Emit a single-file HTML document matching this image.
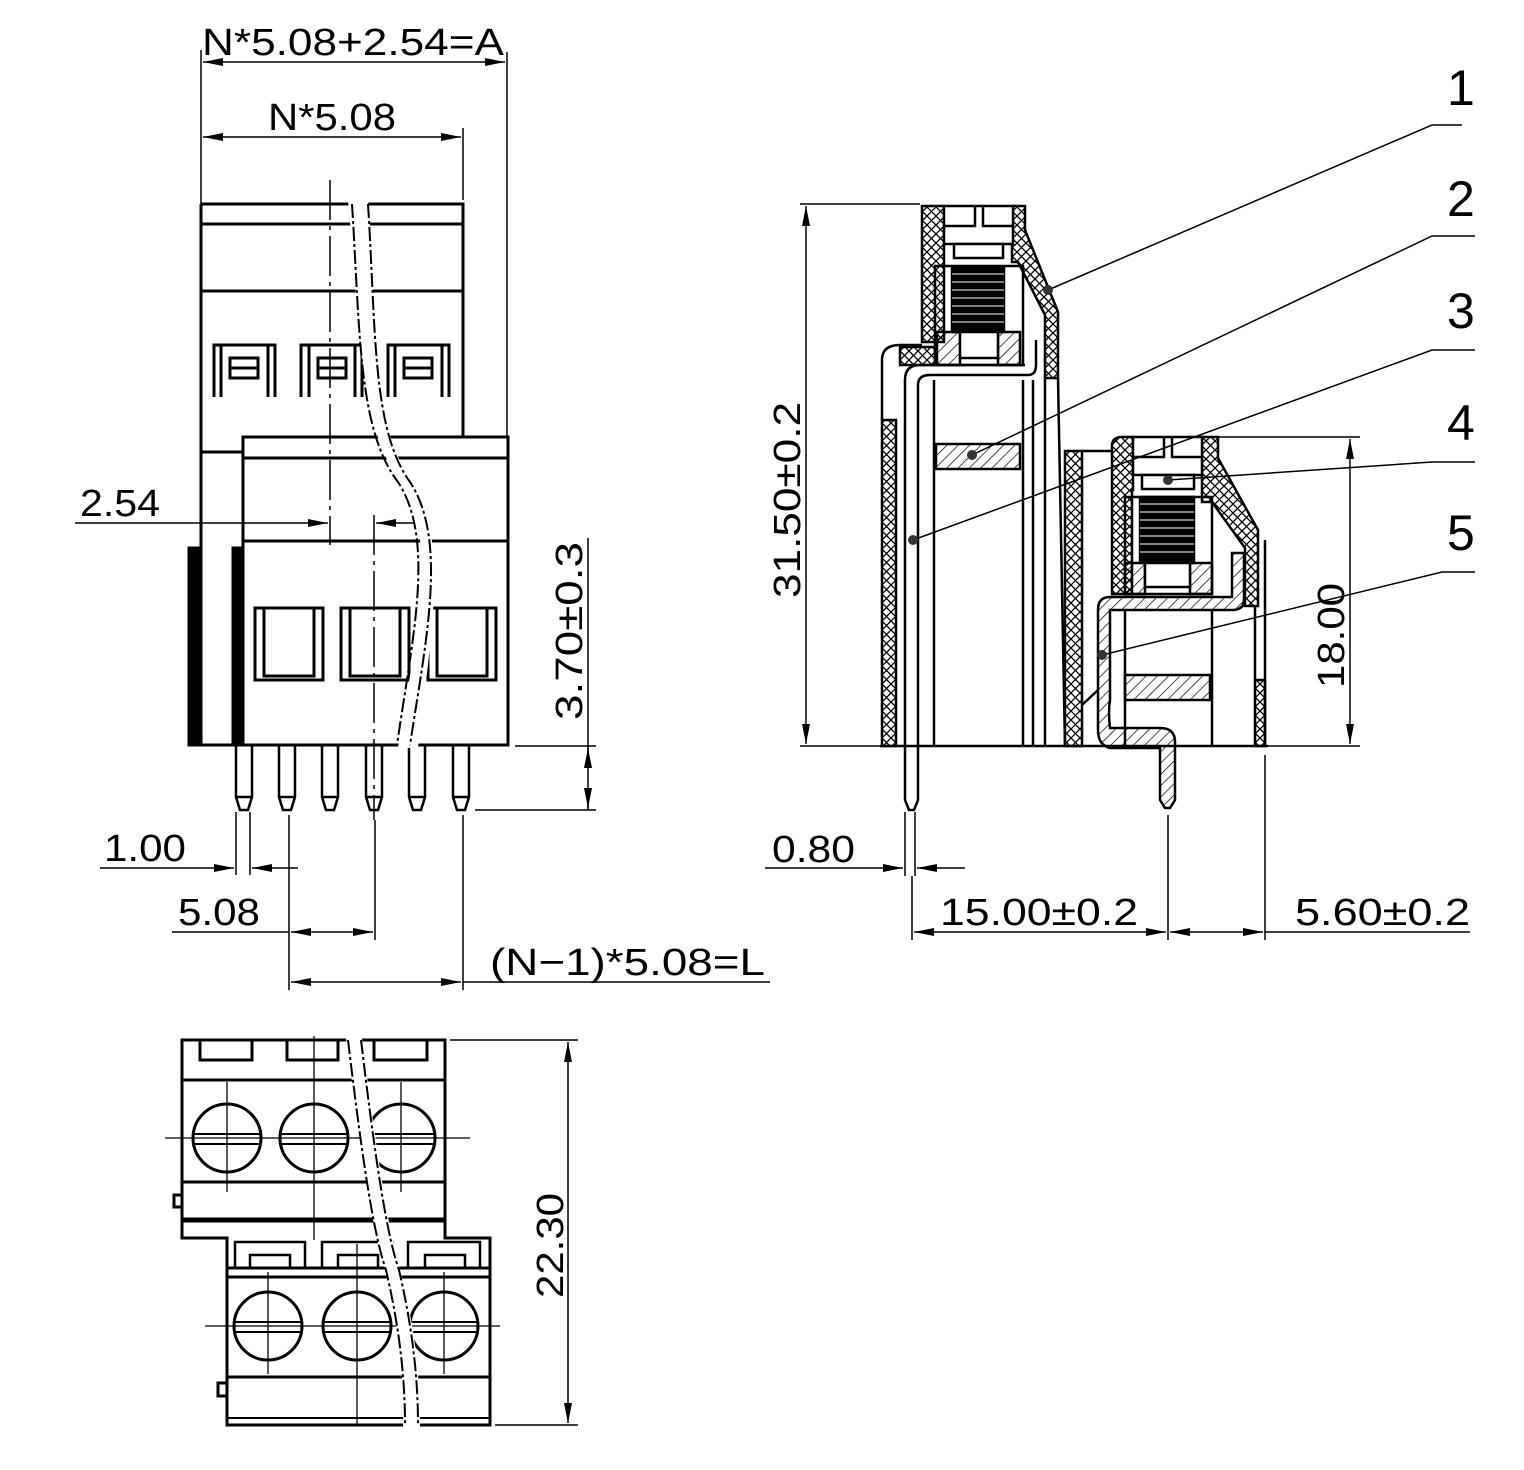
<!DOCTYPE html>
<html><head><meta charset="utf-8"><style>
html,body{margin:0;padding:0;background:#fff}
svg{display:block}
text{font-family:"Liberation Sans",sans-serif;fill:#000}
</style></head><body>
<svg width="1524" height="1470" viewBox="0 0 1524 1470" xmlns="http://www.w3.org/2000/svg">
<defs>
<marker id="a" viewBox="0 0 20 8" refX="20" refY="4" markerWidth="20" markerHeight="8" markerUnits="userSpaceOnUse" orient="auto-start-reverse"><path d="M0,0 L20,4 L0,8 z" fill="#000"/></marker>
<pattern id="x" width="9" height="9" patternUnits="userSpaceOnUse"><path d="M0,0 L9,9 M9,0 L0,9" stroke="#000" stroke-width="1.3"/></pattern>
<pattern id="d" width="8" height="8" patternUnits="userSpaceOnUse" patternTransform="rotate(45)"><line x1="0" y1="0" x2="0" y2="8" stroke="#000" stroke-width="1.4"/></pattern>
</defs>

<!-- ================= FRONT VIEW ================= -->
<g fill="none" stroke="#000" stroke-width="3">
<!-- upper body -->
<path d="M201,204 H463 V437"/>
<line x1="201" y1="204" x2="201" y2="745"/>
<line x1="201" y1="224" x2="463" y2="224"/>
<line x1="201" y1="291" x2="463" y2="291"/>
<line x1="201" y1="452" x2="243" y2="452"/>
<!-- upper windows -->
<path d="M214,397 V345 H275 V397"/><rect x="230" y="358" width="28" height="20"/><line x1="230" y1="368" x2="258" y2="368"/>
<path d="M221,397 V345 M268,397 V345"/>
<path d="M301,397 V345 H362 V397"/><rect x="318" y="358" width="28" height="20"/><line x1="318" y1="368" x2="346" y2="368"/>
<path d="M309,397 V345 M355,397 V345"/>
<path d="M388,397 V345 H449 V397"/><rect x="404" y="358" width="28" height="20"/><line x1="404" y1="368" x2="432" y2="368"/>
<path d="M395,397 V345 M442,397 V345"/>
<!-- lower body -->
<rect x="243" y="437" width="265" height="308"/>
<line x1="243" y1="458" x2="508" y2="458"/>
<line x1="243" y1="541" x2="508" y2="541"/>
<rect x="189" y="548" width="10" height="197" fill="#000"/>
<rect x="233" y="548" width="8" height="197" fill="#000"/>
<line x1="189" y1="745" x2="243" y2="745"/>
<!-- lower windows -->
<rect x="255" y="608" width="68" height="72"/><rect x="264" y="608" width="50" height="68"/>
<rect x="341" y="608" width="68" height="72"/><rect x="350" y="608" width="50" height="68"/>
<rect x="428" y="608" width="68" height="72"/><rect x="437" y="608" width="50" height="68"/>
<!-- pins -->
<g stroke-width="2.5">
<path d="M236,745 V797 L240,810 H248 L252,797 V745 M236,797 H252"/>
<path d="M279,745 V797 L283,810 H291 L295,797 V745 M279,797 H295"/>
<path d="M322,745 V797 L326,810 H334 L338,797 V745 M322,797 H338"/>
<path d="M366,745 V797 L370,810 H378 L382,797 V745 M366,797 H382"/>
<path d="M409,745 V797 L413,810 H421 L425,797 V745 M409,797 H425"/>
<path d="M453,745 V797 L457,810 H465 L469,797 V745 M453,797 H469"/>
</g>
</g>
<!-- break -->
<path d="M348,200 C360,330 360,430 400,480 C440,540 415,640 398,748 L418,748 C430,640 450,540 412,480 C372,430 378,330 368,200 Z" fill="#fff" stroke="none"/>
<g fill="none" stroke="#000" stroke-width="2">
<path d="M352,204 C360,330 358,430 398,482 C436,540 412,640 397,745" stroke-dasharray="14,3,3,3"/>
<path d="M368,204 C376,330 372,430 410,482 C448,540 426,640 410,745" stroke-dasharray="14,3,3,3"/>
</g>
<g stroke="#000" stroke-width="1.5" fill="none">
<line x1="330" y1="180" x2="330" y2="545" stroke-dasharray="40,6,4,6"/>
<line x1="374" y1="515" x2="374" y2="820" stroke-dasharray="40,6,4,6"/>
</g>

<!-- front dims -->
<g stroke="#000" stroke-width="1.5" fill="none">
<line x1="201" y1="50" x2="201" y2="204"/>
<line x1="507" y1="52" x2="507" y2="437"/>
<line x1="203" y1="62" x2="505" y2="62" marker-start="url(#a)" marker-end="url(#a)"/>
<line x1="463" y1="128" x2="463" y2="200"/>
<line x1="203" y1="137" x2="461" y2="137" marker-start="url(#a)" marker-end="url(#a)"/>
<line x1="75" y1="523" x2="328" y2="523" marker-end="url(#a)"/>
<line x1="415" y1="523" x2="376" y2="523" marker-end="url(#a)"/>
<line x1="515" y1="746" x2="596" y2="746"/>
<line x1="475" y1="810" x2="596" y2="810"/>
<line x1="588" y1="538" x2="588" y2="810"/>
<line x1="588" y1="768" x2="588" y2="748" marker-end="url(#a)"/>
<line x1="588" y1="788" x2="588" y2="808" marker-end="url(#a)"/>
<line x1="236" y1="812" x2="236" y2="875"/>
<line x1="250" y1="812" x2="250" y2="875"/>
<line x1="100" y1="868" x2="234" y2="868" marker-end="url(#a)"/>
<line x1="298" y1="868" x2="252" y2="868" marker-end="url(#a)"/>
<line x1="289" y1="815" x2="289" y2="990"/>
<line x1="375" y1="820" x2="375" y2="940"/>
<line x1="172" y1="932" x2="289" y2="932"/>
<line x1="291" y1="932" x2="373" y2="932" marker-start="url(#a)" marker-end="url(#a)"/>
<line x1="463" y1="815" x2="463" y2="990"/>
<line x1="291" y1="982" x2="461" y2="982" marker-start="url(#a)" marker-end="url(#a)"/>
<line x1="463" y1="982" x2="770" y2="982"/>
</g>
<text x="202" y="55" font-size="38" textLength="302" lengthAdjust="spacingAndGlyphs">N*5.08+2.54=A</text>
<text x="268" y="130" font-size="38" textLength="128" lengthAdjust="spacingAndGlyphs">N*5.08</text>
<text x="80" y="516" font-size="38" textLength="80" lengthAdjust="spacingAndGlyphs">2.54</text>
<text transform="translate(582,720) rotate(-90)" font-size="38" textLength="178" lengthAdjust="spacingAndGlyphs">3.70±0.3</text>
<text x="104" y="861" font-size="38" textLength="82" lengthAdjust="spacingAndGlyphs">1.00</text>
<text x="178" y="925" font-size="38" textLength="82" lengthAdjust="spacingAndGlyphs">5.08</text>
<text x="490" y="975" font-size="38" textLength="275" lengthAdjust="spacingAndGlyphs">(N−1)*5.08=L</text>

<!-- ================= SIDE VIEW ================= -->
<g stroke="#000" stroke-width="2.5">
<!-- tall housing hatched -->
<path d="M922,206 H944 V342 H922 Z" fill="url(#x)"/>
<path d="M1012,206 H1025 V230 L1058,312 V378 H1045 V315 L1018,262 H1012 Z" fill="url(#x)"/>
<path d="M900,347 H935 V365 H900 Z" fill="url(#x)"/>
<path d="M882,420 H896 V746 H882 Z" fill="url(#x)"/>
<path d="M937,332 H960 V365 H937 Z M998,332 H1020 V365 H998 Z" fill="url(#d)"/>
<rect x="936" y="444" width="84" height="25" fill="url(#d)"/>
<path d="M1065,451 H1082 V746 H1065 Z" fill="url(#x)"/>
<!-- screw head -->
<rect x="944" y="206" width="69" height="38" fill="#fff"/>
<path d="M944,226 H975 V206 M983,206 V226 H1013" fill="none"/>
<rect x="954" y="244" width="49" height="14" fill="#fff"/>
<rect x="935" y="266" width="88" height="99" fill="none"/>
<!-- spring -->
<rect x="952" y="268" width="52" height="64" fill="#000"/>
<g stroke="#fff" stroke-width="1"><line x1="952" y1="274" x2="1004" y2="274"/><line x1="952" y1="282" x2="1004" y2="282"/><line x1="952" y1="290" x2="1004" y2="290"/><line x1="952" y1="298" x2="1004" y2="298"/><line x1="952" y1="306" x2="1004" y2="306"/><line x1="952" y1="314" x2="1004" y2="314"/><line x1="952" y1="322" x2="1004" y2="322"/></g>
<rect x="960" y="332" width="38" height="26" fill="#fff"/>
<!-- clamp & lines -->
<path d="M918,746 V385 Q918,375 930,375 H1028 Q1036,375 1036,365 V340 M905,746 V380 Q905,365 920,365 H1025" fill="none"/>
<path d="M882,420 V360 Q882,345 900,345 H922" fill="none"/>
<g fill="none"><line x1="934" y1="380" x2="934" y2="746"/><line x1="1023" y1="380" x2="1023" y2="746"/><line x1="1033" y1="380" x2="1033" y2="746"/><line x1="1045" y1="378" x2="1045" y2="746"/><line x1="1058" y1="378" x2="1065" y2="746"/></g>
<!-- pin left -->
<path d="M905,746 V800 L909,810 H914 L918,800 V746" fill="none"/>
<!-- lower housing -->
<path d="M1112,446 Q1112,437 1122,437 H1133 V490 H1132 V594 H1112 Z" fill="url(#x)"/>
<path d="M1202,437 H1218 V458 L1258,530 V606 H1245 V548 L1212,502 H1202 Z" fill="url(#x)"/>
<rect x="1133" y="437" width="69" height="38" fill="#fff"/>
<path d="M1133,457 H1164 V437 M1172,437 V457 H1202" fill="none"/>
<rect x="1142" y="475" width="52" height="14" fill="#fff"/>
<rect x="1125" y="497" width="87" height="97" fill="none"/>
<rect x="1140" y="497" width="54" height="66" fill="#000"/>
<g stroke="#fff" stroke-width="1"><line x1="1140" y1="504" x2="1194" y2="504"/><line x1="1140" y1="512" x2="1194" y2="512"/><line x1="1140" y1="520" x2="1194" y2="520"/><line x1="1140" y1="528" x2="1194" y2="528"/><line x1="1140" y1="536" x2="1194" y2="536"/><line x1="1140" y1="544" x2="1194" y2="544"/><line x1="1140" y1="552" x2="1194" y2="552"/></g>
<path d="M1125,563 H1145 V594 H1125 Z M1190,563 H1212 V594 H1190 Z" fill="url(#d)"/>
<rect x="1145" y="563" width="45" height="24" fill="#fff"/>
<!-- lower clamp -->
<path d="M1098,700 V610 Q1098,597 1110,597 H1232 V553 H1244 V600 Q1244,610 1232,610 H1110 V700 Q1108,712 1110,728 H1160 Q1175,728 1175,742 V800 L1170,808 H1165 L1160,800 V748 H1110 Q1098,745 1098,730 Z" fill="url(#d)"/>
<rect x="1125" y="675" width="85" height="25" fill="url(#d)"/>
<path d="M1255,680 H1265 V746 H1255 Z" fill="url(#x)"/>
<g fill="none"><line x1="1125" y1="610" x2="1125" y2="746"/><line x1="1212" y1="610" x2="1212" y2="746"/><line x1="1255" y1="606" x2="1255" y2="680"/><line x1="1265" y1="540" x2="1265" y2="746"/><line x1="1082" y1="451" x2="1112" y2="451"/><line x1="1082" y1="705" x2="1098" y2="690"/></g>
<line x1="880" y1="746" x2="1268" y2="746"/>
</g>
<!-- leaders -->
<g stroke="#000" stroke-width="1.5" fill="none">
<path d="M1048,290 L1432,125 H1462"/>
<path d="M972,455 L1432,236 H1475"/>
<path d="M913,540 L1432,350 H1475"/>
<path d="M1168,480 L1432,462 H1475"/>
<path d="M1102,655 L1442,572 H1475"/>
</g>
<g fill="#333"><circle cx="1048" cy="290" r="5"/><circle cx="972" cy="455" r="5"/><circle cx="913" cy="540" r="5"/><circle cx="1168" cy="480" r="5"/><circle cx="1102" cy="655" r="5"/></g>
<g font-size="50"><text x="1447" y="105">1</text><text x="1447" y="216">2</text><text x="1447" y="328">3</text><text x="1447" y="440">4</text><text x="1447" y="550">5</text></g>
<!-- side dims -->
<g stroke="#000" stroke-width="1.5" fill="none">
<line x1="800" y1="204" x2="920" y2="204"/>
<line x1="806" y1="206" x2="806" y2="744" marker-start="url(#a)" marker-end="url(#a)"/>
<line x1="800" y1="746" x2="880" y2="746"/>
<line x1="1218" y1="437" x2="1360" y2="437"/>
<line x1="1268" y1="746" x2="1360" y2="746"/>
<line x1="1350" y1="439" x2="1350" y2="744" marker-start="url(#a)" marker-end="url(#a)"/>
<line x1="905" y1="812" x2="905" y2="876"/>
<line x1="915" y1="812" x2="915" y2="876"/>
<line x1="765" y1="868" x2="903" y2="868" marker-end="url(#a)"/>
<line x1="965" y1="868" x2="917" y2="868" marker-end="url(#a)"/>
<line x1="912" y1="876" x2="912" y2="940"/>
<line x1="1168" y1="815" x2="1168" y2="940"/>
<line x1="1265" y1="755" x2="1265" y2="940"/>
<line x1="914" y1="932" x2="1166" y2="932" marker-start="url(#a)" marker-end="url(#a)"/>
<line x1="1170" y1="932" x2="1263" y2="932" marker-start="url(#a)" marker-end="url(#a)"/>
<line x1="1265" y1="932" x2="1470" y2="932"/>
</g>
<text transform="translate(800,598) rotate(-90)" font-size="38" textLength="196" lengthAdjust="spacingAndGlyphs">31.50±0.2</text>
<text transform="translate(1344,688) rotate(-90)" font-size="38" textLength="105" lengthAdjust="spacingAndGlyphs">18.00</text>
<text x="772" y="862" font-size="38" textLength="83" lengthAdjust="spacingAndGlyphs">0.80</text>
<text x="940" y="925" font-size="38" textLength="198" lengthAdjust="spacingAndGlyphs">15.00±0.2</text>
<text x="1295" y="925" font-size="38" textLength="175" lengthAdjust="spacingAndGlyphs">5.60±0.2</text>

<!-- ================= BOTTOM VIEW ================= -->
<g fill="none" stroke="#000" stroke-width="3">
<path d="M182,1040 H445 V1238 H490 V1425 H227 V1238 H182 Z"/>
<line x1="182" y1="1080" x2="445" y2="1080"/>
<line x1="182" y1="1182" x2="445" y2="1182"/>
<line x1="182" y1="1220" x2="445" y2="1220" stroke-width="5"/>
<path d="M200,1040 V1060 H252 V1040 M287,1040 V1060 H338 V1040 M374,1040 V1060 H427 V1040"/>
<circle cx="227" cy="1138" r="34"/><circle cx="314" cy="1138" r="34"/><circle cx="401" cy="1138" r="34"/>
<path d="M193,1134 H261 M193,1144 H261 M280,1134 H348 M280,1144 H348 M367,1134 H435 M367,1144 H435" stroke-width="2"/>
<path d="M182,1195 H174 V1207 H182"/>
<line x1="227" y1="1268" x2="490" y2="1268"/>
<line x1="227" y1="1277" x2="490" y2="1277"/>
<line x1="227" y1="1377" x2="490" y2="1377"/>
<line x1="227" y1="1418" x2="490" y2="1418" stroke-width="2"/>
<path d="M235,1268 V1242 H305 V1268 M322,1268 V1242 H392 V1268 M408,1268 V1242 H480 V1268" stroke-width="2.5"/>
<path d="M250,1268 V1255 H290 V1268 M338,1268 V1255 H378 V1268 M425,1268 V1255 H465 V1268" stroke-width="2.5"/>
<circle cx="268" cy="1326" r="34"/><circle cx="357" cy="1326" r="34"/><circle cx="444" cy="1326" r="34"/>
<path d="M234,1322 H302 M234,1332 H302 M323,1322 H391 M323,1332 H391 M410,1322 H478 M410,1332 H478" stroke-width="2"/>
<path d="M227,1383 H218 V1396 H227"/>
</g>
<g stroke="#000" stroke-width="1.3" fill="none">
<line x1="227" y1="1082" x2="227" y2="1192"/><line x1="314" y1="1036" x2="314" y2="1240"/><line x1="401" y1="1082" x2="401" y2="1192"/>
<line x1="165" y1="1138" x2="470" y2="1138"/>
<line x1="268" y1="1272" x2="268" y2="1374"/><line x1="357" y1="1244" x2="357" y2="1425"/><line x1="444" y1="1272" x2="444" y2="1374"/>
<line x1="205" y1="1326" x2="500" y2="1326"/>
</g>
<path d="M346,1038 C360,1140 372,1230 385,1270 C400,1330 404,1380 403,1428 L420,1428 C420,1380 416,1330 400,1270 C388,1230 375,1140 362,1038 Z" fill="#fff"/>
<g fill="none" stroke="#000" stroke-width="2" stroke-dasharray="14,3,3,3">
<path d="M348,1040 C360,1140 372,1230 386,1270 C400,1330 405,1380 405,1425"/>
<path d="M361,1040 C373,1140 385,1230 399,1270 C413,1330 418,1380 418,1425"/>
</g>
<g stroke="#000" stroke-width="1.5" fill="none">
<line x1="450" y1="1040" x2="578" y2="1040"/>
<line x1="495" y1="1425" x2="578" y2="1425"/>
<line x1="568" y1="1042" x2="568" y2="1423" marker-start="url(#a)" marker-end="url(#a)"/>
</g>
<text transform="translate(563,1298) rotate(-90)" font-size="38" textLength="105" lengthAdjust="spacingAndGlyphs">22.30</text>
</svg>
</body></html>
